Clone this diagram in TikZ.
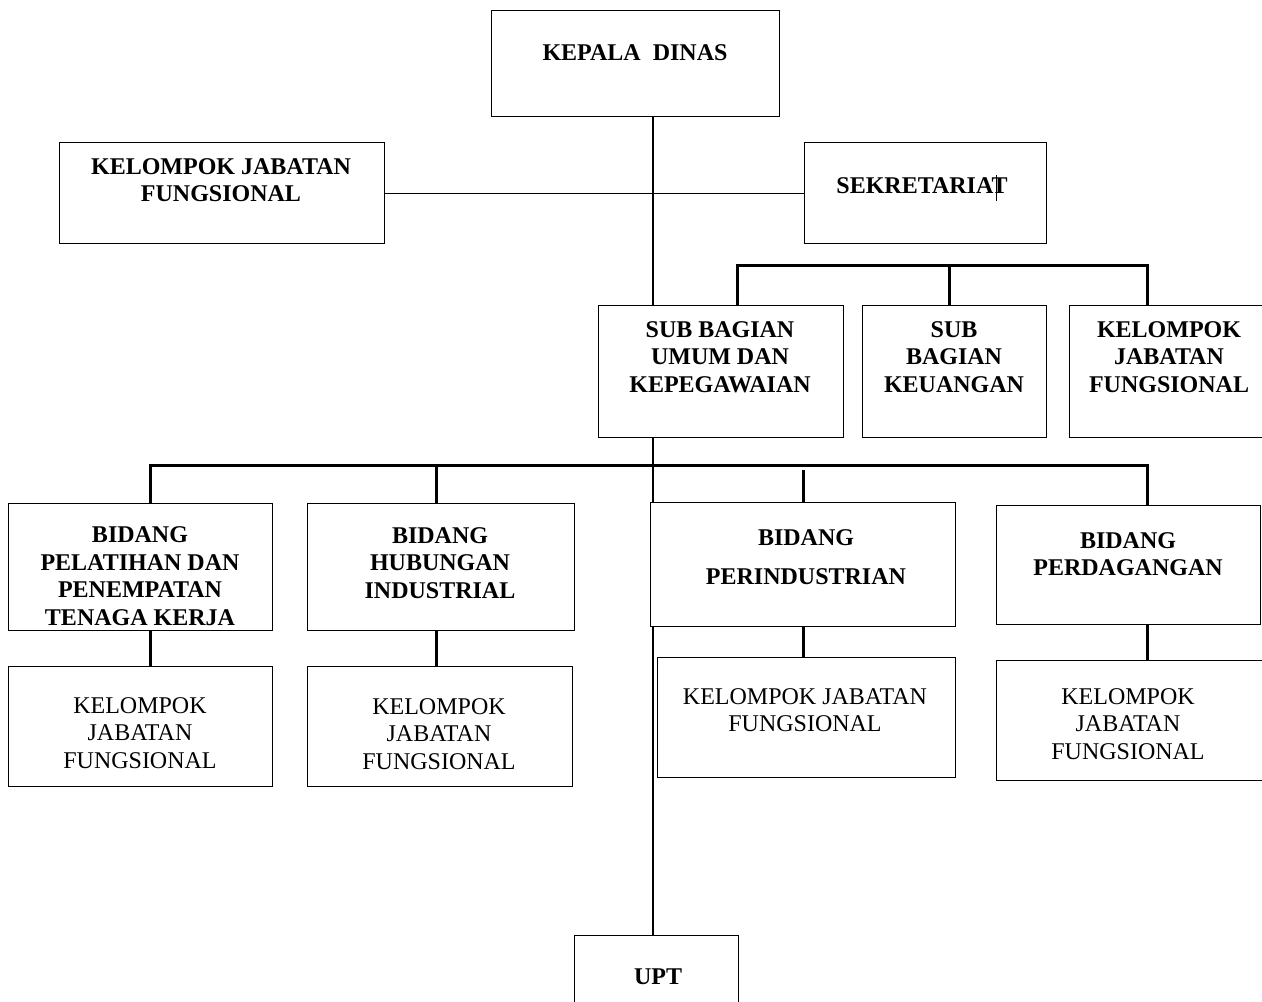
\documentclass[tikz,border=0pt]{standalone}
\usepackage{fontspec}
\setmainfont{Liberation Serif}
\usepackage{tikz}
\usetikzlibrary{backgrounds}

\tikzset{
  kotak/.style={draw, fill=white, line width=0.65pt, rectangle, inner sep=0pt, anchor=north west},
  judul/.style={inner sep=0pt, align=center, font=\fontsize{12}{13.8}\selectfont\bfseries},
  isi/.style={inner sep=0pt, align=center, font=\fontsize{12}{13.8}\selectfont},
  tebal/.style={line width=1.5pt},
  tipis/.style={line width=0.6pt}
}

\begin{document}
\begin{tikzpicture}[x=0.5pt, y=-0.5pt]
\useasboundingbox (0,0) rectangle (1262,1001);
\clip (0,0) rectangle (1262,1001);

\node[kotak, minimum width=144pt, minimum height=53pt] (kadis) at (491,10) {};
\node[kotak, minimum width=162.5pt, minimum height=50.5pt] (kjfa) at (59,142) {};
\node[kotak, minimum width=121pt, minimum height=50.5pt] (sekr) at (804,142) {};
\node[kotak, minimum width=122.5pt, minimum height=66pt] (suba) at (598,305) {};
\node[kotak, minimum width=92pt, minimum height=66pt] (subb) at (862,305) {};
\node[kotak, minimum width=110.5pt, minimum height=66pt] (subc) at (1069,305) {};
\node[kotak, minimum width=132pt, minimum height=63.5pt] (bida) at (8,503) {};
\node[kotak, minimum width=133.5pt, minimum height=63.5pt] (bidb) at (307,503) {};
\node[kotak, minimum width=152.5pt, minimum height=62pt] (bidc) at (650,502) {};
\node[kotak, minimum width=132pt, minimum height=59.5pt] (bidd) at (996,505) {};
\node[kotak, minimum width=132pt, minimum height=60pt] (kjfb) at (8,666) {};
\node[kotak, minimum width=132.5pt, minimum height=60pt] (kjfc) at (307,666) {};
\node[kotak, minimum width=149pt, minimum height=60pt] (kjfd) at (657,657) {};
\node[kotak, minimum width=147pt, minimum height=60pt] (kjfe) at (996,660) {};
\node[kotak, minimum width=82pt, minimum height=47.5pt] (upt) at (574,935) {};

\node[judul] (tkadis) at (635,53) {KEPALA\ \ DINAS};
\node[judul] (tkjfa) at (221,180) {KELOMPOK JABATAN\\FUNGSIONAL};
\node[judul] (tsekr) at (922,186) {SEKRETARIAT};
\draw[line width=0.5pt] (996,175) -- (996,201);
\node[judul] (tsuba) at (720,357) {SUB BAGIAN\\UMUM DAN\\KEPEGAWAIAN};
\node[judul] (tsubb) at (954,357) {SUB\\BAGIAN\\KEUANGAN};
\node[judul] (tsubc) at (1169,357) {KELOMPOK\\JABATAN\\FUNGSIONAL};
\node[judul] (tbida) at (140,576) {BIDANG\\PELATIHAN DAN\\PENEMPATAN\\TENAGA KERJA};
\node[judul] (tbidb) at (440,563) {BIDANG\\HUBUNGAN\\INDUSTRIAL};
\node[judul] (tbidc) at (806,557) {BIDANG\\[5.7pt]PERINDUSTRIAN};
\node[judul] (tbidd) at (1128,554) {BIDANG\\PERDAGANGAN};
\node[isi] (tkjfb) at (140,733) {KELOMPOK\\JABATAN\\FUNGSIONAL};
\node[isi] (tkjfc) at (439,734) {KELOMPOK\\JABATAN\\FUNGSIONAL};
\node[isi] (tkjfd) at (805,710) {KELOMPOK JABATAN\\FUNGSIONAL};
\node[isi] (tkjfe) at (1128,724) {KELOMPOK\\JABATAN\\FUNGSIONAL};
\node[judul] (tupt) at (658,977) {UPT};

\coordinate (tulang) at (653,116);
\coordinate (sa) at (737,265);
\coordinate (sb) at (949,265);
\coordinate (sc) at (1147,265);
\coordinate (ba) at (150,465);
\coordinate (bb) at (436,465);
\coordinate (bc) at (803,465);
\coordinate (bd) at (1147,465);

\begin{pgfonlayer}{background}
\draw[tipis] (tulang |- kadis.south) -- (tulang |- upt.north);
\end{pgfonlayer}
\draw[tipis] (kjfa.east) -- (sekr.west);

\draw[tebal] (sa |- suba.north) -- (sa) -- (sc) -- (sc |- subc.north);
\draw[tebal] (sb) -- (sb |- subb.north);

\draw[tebal] (ba |- bida.north) -- (ba) -- (bd) -- (bd |- bidd.north);
\draw[tebal] (bb) -- (bb |- bidb.north);
\draw[tebal] ([yshift=-2.5pt]bc) -- (bc |- bidc.north);

\draw[tebal] (bida.south -| ba) -- (kjfb.north -| ba);
\draw[tebal] (bidb.south -| bb) -- (kjfc.north -| bb);
\draw[tebal] (bidc.south -| bc) -- (kjfd.north -| bc);
\draw[tebal] (bidd.south -| bd) -- (kjfe.north -| bd);
\end{tikzpicture}
\end{document}
